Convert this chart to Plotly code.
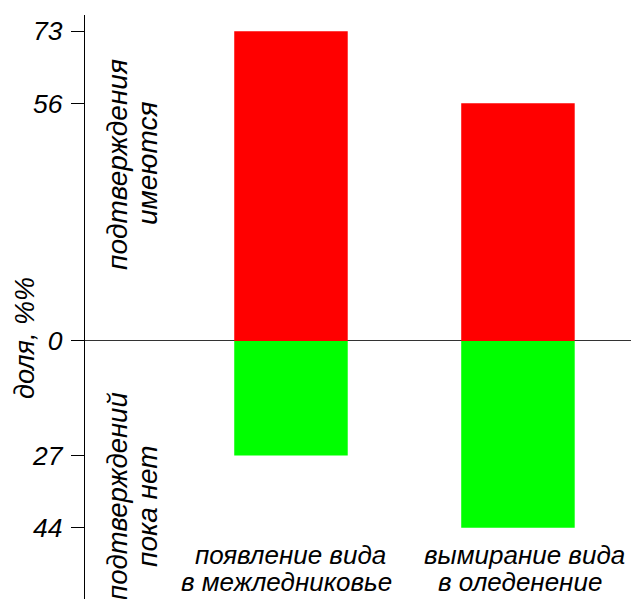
import plotly.graph_objects as go

categories = ["появление вида в межледниковье", "вымирание вида в оледенение"]
cat_lines = [["появление вида", "в межледниковье"], ["вымирание вида", "в оледенение"]]
confirmed = [73, 56]        # подтверждения имеются
not_confirmed = [27, 44]    # подтверждений пока нет
tick_vals = [73, 56, 0, -27, -44]
tick_text = ["73", "56", "0", "27", "44"]

FONT = "Liberation Sans, Arial, sans-serif"

W, H = 631, 599
L, R, T, B = 85, 0, 15, 0
pw, ph = W - L - R, H - T - B

fig = go.Figure()
fig.add_trace(go.Bar(x=categories, y=confirmed, marker=dict(color="#ff0000", line=dict(width=0)),
                     width=0.5, showlegend=False))
fig.add_trace(go.Bar(x=categories, y=[-v for v in not_confirmed], marker=dict(color="#00ff00", line=dict(width=0)),
                     width=0.5, showlegend=False))

fig.update_layout(
    width=W, height=H,
    margin=dict(l=L, r=R, t=T, b=B, autoexpand=False),
    paper_bgcolor="white", plot_bgcolor="white",
    barmode="relative",
    font=dict(family=FONT, color="black"),
    xaxis=dict(range=[-0.9075, 1.498], showticklabels=False, showgrid=False,
               zeroline=False, showline=False, ticks=""),
    yaxis=dict(range=[-60.8, 76.8], tickvals=tick_vals, ticktext=tick_text,
               tickfont=dict(size=26.5, family=FONT, style="italic"),
               ticks="outside", ticklen=13, tickcolor="black", tickwidth=1.2,
               ticklabelstandoff=3,
               showline=True, linecolor="black", linewidth=1.2,
               showgrid=False, zeroline=True, zerolinecolor="#333333", zerolinewidth=1.3),
)

def px_to_paper(x, y):
    return (x - L) / pw, 1 - (y - T) / ph

annots = []
# category labels, one annotation per line (tight leading as in the reference)
line_y = [555, 582]
line_dx = [[0, -4], [7, 2]]
for ci, c in enumerate(categories):
    for li, txt in enumerate(cat_lines[ci]):
        _, py = px_to_paper(0, line_y[li])
        annots.append(dict(x=c, y=py, xref="x", yref="paper", text=txt, showarrow=False,
                           xanchor="center", yanchor="middle", xshift=line_dx[ci][li],
                           font=dict(size=26, family=FONT, style="italic")))
side = [
    (117, 165, "подтверждения", 28),
    (147, 164, "имеются", 28),
    (117, 496, "подтверждений", 27.5),
    (147, 506, "пока нет", 28),
    (25, 338, "доля, %%", 27),
]
for x, y, t, s in side:
    px, py = px_to_paper(x, y)
    annots.append(dict(x=px, y=py, xref="paper", yref="paper", text=t, showarrow=False,
                       textangle=-90, xanchor="center", yanchor="middle",
                       font=dict(size=s, family=FONT, style="italic")))
fig.update_layout(annotations=annots)

fig.write_html("out.html", config={"displayModeBar": False},
               post_script="document.body.style.margin='0';document.body.style.overflow='hidden';")
